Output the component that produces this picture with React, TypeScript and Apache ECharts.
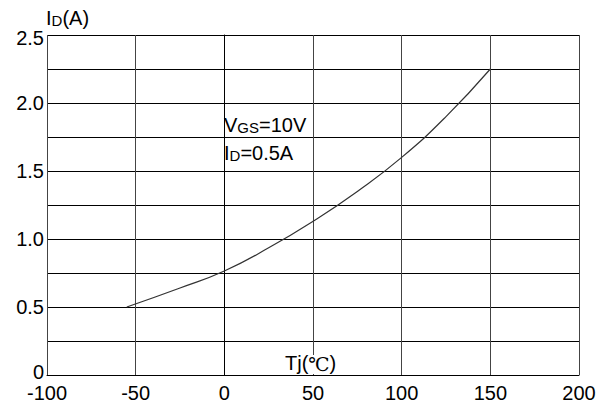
import React, { useEffect, useRef } from "react";
import * as echarts from "echarts";

const tjValues = [-55, -25, 0, 25, 50, 75, 100, 125, 150];
const idValues = [0.5, 0.64, 0.765, 0.935, 1.13, 1.35, 1.6, 1.9, 2.25];
const xTicks = { min: -100, max: 200, interval: 50 };
const yTicks = { min: 0, max: 2.5, interval: 0.25 };

const FONT = "'Liberation Sans', Arial, sans-serif";

export default function App() {
  const ref = useRef<HTMLDivElement>(null);
  useEffect(() => {
    document.body.style.margin = "0";
    const chart = echarts.init(ref.current!, null, { renderer: "svg" });
    const data = tjValues.map((t, i) => [t, idValues[i]]);
    const txt = (size: number, family = FONT, lh = 22) => ({
      fontSize: size,
      fontFamily: family,
      fill: "#000",
      color: "#000",
      verticalAlign: "bottom",
      lineHeight: lh,
    });
    chart.setOption({
      animation: false,
      backgroundColor: "#fff",
      grid: { left: 47, right: 32, top: 35, bottom: 27, containLabel: false },
      xAxis: {
        type: "value",
        min: xTicks.min,
        max: xTicks.max,
        interval: xTicks.interval,
        axisLine: { show: true, lineStyle: { color: "#000", width: 1 } },
        axisTick: { show: false },
        axisLabel: { color: "#000", fontSize: 20, fontFamily: FONT, margin: 11, lineHeight: 14 },
        splitLine: { show: true, lineStyle: { color: "#444", width: 1 } },
      },
      yAxis: {
        type: "value",
        min: yTicks.min,
        max: yTicks.max,
        interval: yTicks.interval,
        axisLine: { show: true, lineStyle: { color: "#000", width: 1 } },
        axisTick: { show: false },
        axisLabel: {
          color: "#000",
          fontSize: 20,
          fontFamily: FONT,
          margin: 3,
          lineHeight: 14,
          formatter: (v: number) => {
            if (v === 0) return "{z|0}";
            if (v === yTicks.max) return "{t|" + v.toFixed(1) + "}";
            const h = v * 2;
            return Math.abs(h - Math.round(h)) < 1e-6 ? v.toFixed(1) : "";
          },
          rich: {
            z: { fontSize: 20, fontFamily: FONT, color: "#000", lineHeight: 14, padding: [0, 0, 6, 0] },
            t: { fontSize: 20, fontFamily: FONT, color: "#000", lineHeight: 14, padding: [5, 0, 0, 0] },
          },
        },
        splitLine: { show: true, lineStyle: { color: "#000", width: 1 } },
      },
      series: [
        {
          type: "line",
          data,
          smooth: true,
          symbol: "none",
          lineStyle: { color: "#333", width: 1.2 },
        },
      ],
      graphic: [
        {
          type: "text",
          z: 100,
          x: 46,
          y: 28,
          style: {
            text: "{a|I}{b|D}{a|(A)}",
            verticalAlign: "bottom",
            rich: { a: txt(20), b: txt(15) },
          },
        },
        {
          type: "text",
          z: 100,
          x: 224,
          y: 135,
          style: {
            text: "{a|V}{b|GS}{a|=10V}",
            verticalAlign: "bottom",
            rich: { a: txt(20), b: txt(15) },
          },
        },
        {
          type: "text",
          z: 100,
          x: 224,
          y: 163,
          style: {
            text: "{a|I}{b|D}{a|=0.5A}",
            verticalAlign: "bottom",
            rich: { a: txt(20), b: txt(15) },
          },
        },
        {
          type: "rect",
          z: 99,
          shape: { x: 283, y: 355, width: 58, height: 19 },
          style: { fill: "#fff" },
        },
        {
          type: "text",
          z: 100,
          x: 285,
          y: 373,
          style: {
            text: "{a|Tj(}{c|℃}{a|)}",
            verticalAlign: "bottom",
            rich: {
              a: txt(20, FONT, 18),
              c: txt(19, "'DejaVu Serif', 'Noto Sans CJK SC', serif", 18),
            },
          },
        },
      ],
    });
    return () => chart.dispose();
  }, []);
  return (
    <div
      ref={ref}
      style={{ position: "fixed", left: 0, top: 0, width: 611, height: 403 }}
    />
  );
}
